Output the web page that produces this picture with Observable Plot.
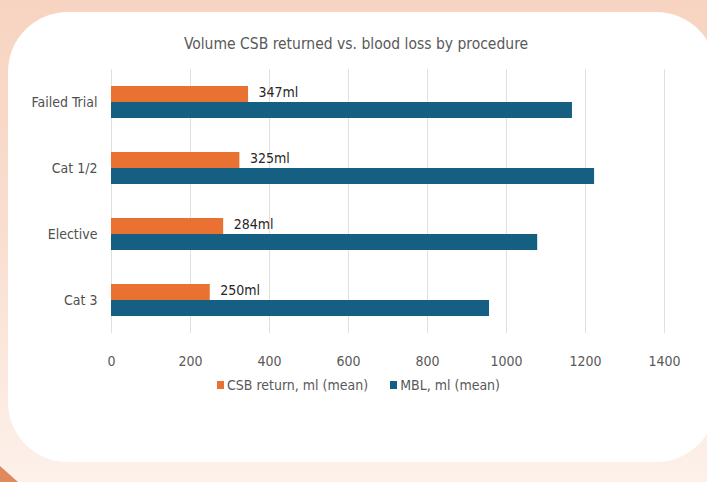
<!DOCTYPE html>
<html><head><meta charset="utf-8">
<script src="https://cdn.jsdelivr.net/npm/d3@7"></script>
<script src="https://cdn.jsdelivr.net/npm/@observablehq/plot@0.6"></script>
<style>
  html, body { margin: 0; padding: 0; }
  body { width: 707px; height: 482px; overflow: hidden; position: relative;
    background: linear-gradient(to bottom, #f7d4c1 0%, #f9ddce 45%, #fdf1ea 100%);
    font-family: "Liberation Sans Narrow", "DejaVu Sans Condensed", "Roboto", sans-serif; }
  #card { position: absolute; left: 8px; top: 12px; width: 708px; height: 450px;
    border-radius: 60px; background: #ffffff; }
  #corner { position: absolute; left: 0; top: 466px; width: 18px; height: 16px;
    background: #df8a5e; clip-path: polygon(0 0, 100% 100%, 0 100%); }
  #title { position: absolute; left: 0; width: 712px; top: 35px; text-align: center;
    font-size: 15.5px; color: #595959; }
  #chart { position: absolute; left: 0; top: 60px; }
  #legend { position: absolute; left: 0; width: 717px; top: 377px; display: flex;
    justify-content: center; gap: 22px; font-size: 14px; color: #595959; }
  #legend span.item { display: flex; align-items: center; }
  #legend i { display: inline-block; width: 7px; height: 8px; margin-right: 3px; }
</style>
</head><body>
<div id="card"></div>
<div id="corner"></div>
<div id="title">Volume CSB returned vs. blood loss by procedure</div>
<div id="chart"></div>
<div id="legend"></div>
<script>
const categories = ["Failed Trial", "Cat 1/2", "Elective", "Cat 3"];
const csbReturn = [347, 325, 284, 250];
const mblValues = [1167, 1223, 1079, 957];
const seriesNames = ["CSB return, ml (mean)", "MBL, ml (mean)"];
const seriesColors = ["#E97132", "#156082"];
const valueLabels = ["347ml", "325ml", "284ml", "250ml"];
const xTicks = [0, 200, 400, 600, 800, 1000, 1200, 1400];

const csbRows = categories.map((c, i) => ({category: c, value: csbReturn[i], label: valueLabels[i]}));
const mblRows = categories.map((c, i) => ({category: c, value: mblValues[i]}));

const plot = Plot.plot({
  width: 707,
  height: 320,
  marginLeft: 111,
  marginRight: 43,
  marginTop: 9,
  marginBottom: 47,
  style: {fontFamily: '"Liberation Sans Narrow", "DejaVu Sans Condensed", Roboto, sans-serif', background: "transparent"},
  x: {domain: [0, 1400], ticks: xTicks},
  y: {domain: categories, paddingInner: 0.515, paddingOuter: 0.2575},
  marks: [
    Plot.ruleX(xTicks, {stroke: "#e0e0e0", strokeWidth: 1, strokeOpacity: 1}),
    Plot.barX(csbRows, {x: "value", y: "category", fill: seriesColors[0], insetBottom: 16}),
    Plot.barX(mblRows, {x: "value", y: "category", fill: seriesColors[1], insetTop: 16}),
    Plot.text(csbRows, {x: "value", y: "category", text: "label", textAnchor: "start", dx: 10, dy: -10, fontSize: 14, fill: "#262626"}),
    Plot.axisX({ticks: xTicks, tickSize: 0, tickPadding: 23, fontSize: 14, color: "#595959", label: null, tickFormat: d => String(d)}),
    Plot.axisY({tickSize: 0, tickPadding: 14, fontSize: 14, color: "#505050", label: null})
  ]
});
document.getElementById("chart").appendChild(plot);

const legend = document.getElementById("legend");
seriesNames.forEach((name, i) => {
  const item = document.createElement("span");
  item.className = "item";
  const sw = document.createElement("i");
  sw.style.background = seriesColors[i];
  item.appendChild(sw);
  item.appendChild(document.createTextNode(name));
  legend.appendChild(item);
});
</script>
</body></html>
